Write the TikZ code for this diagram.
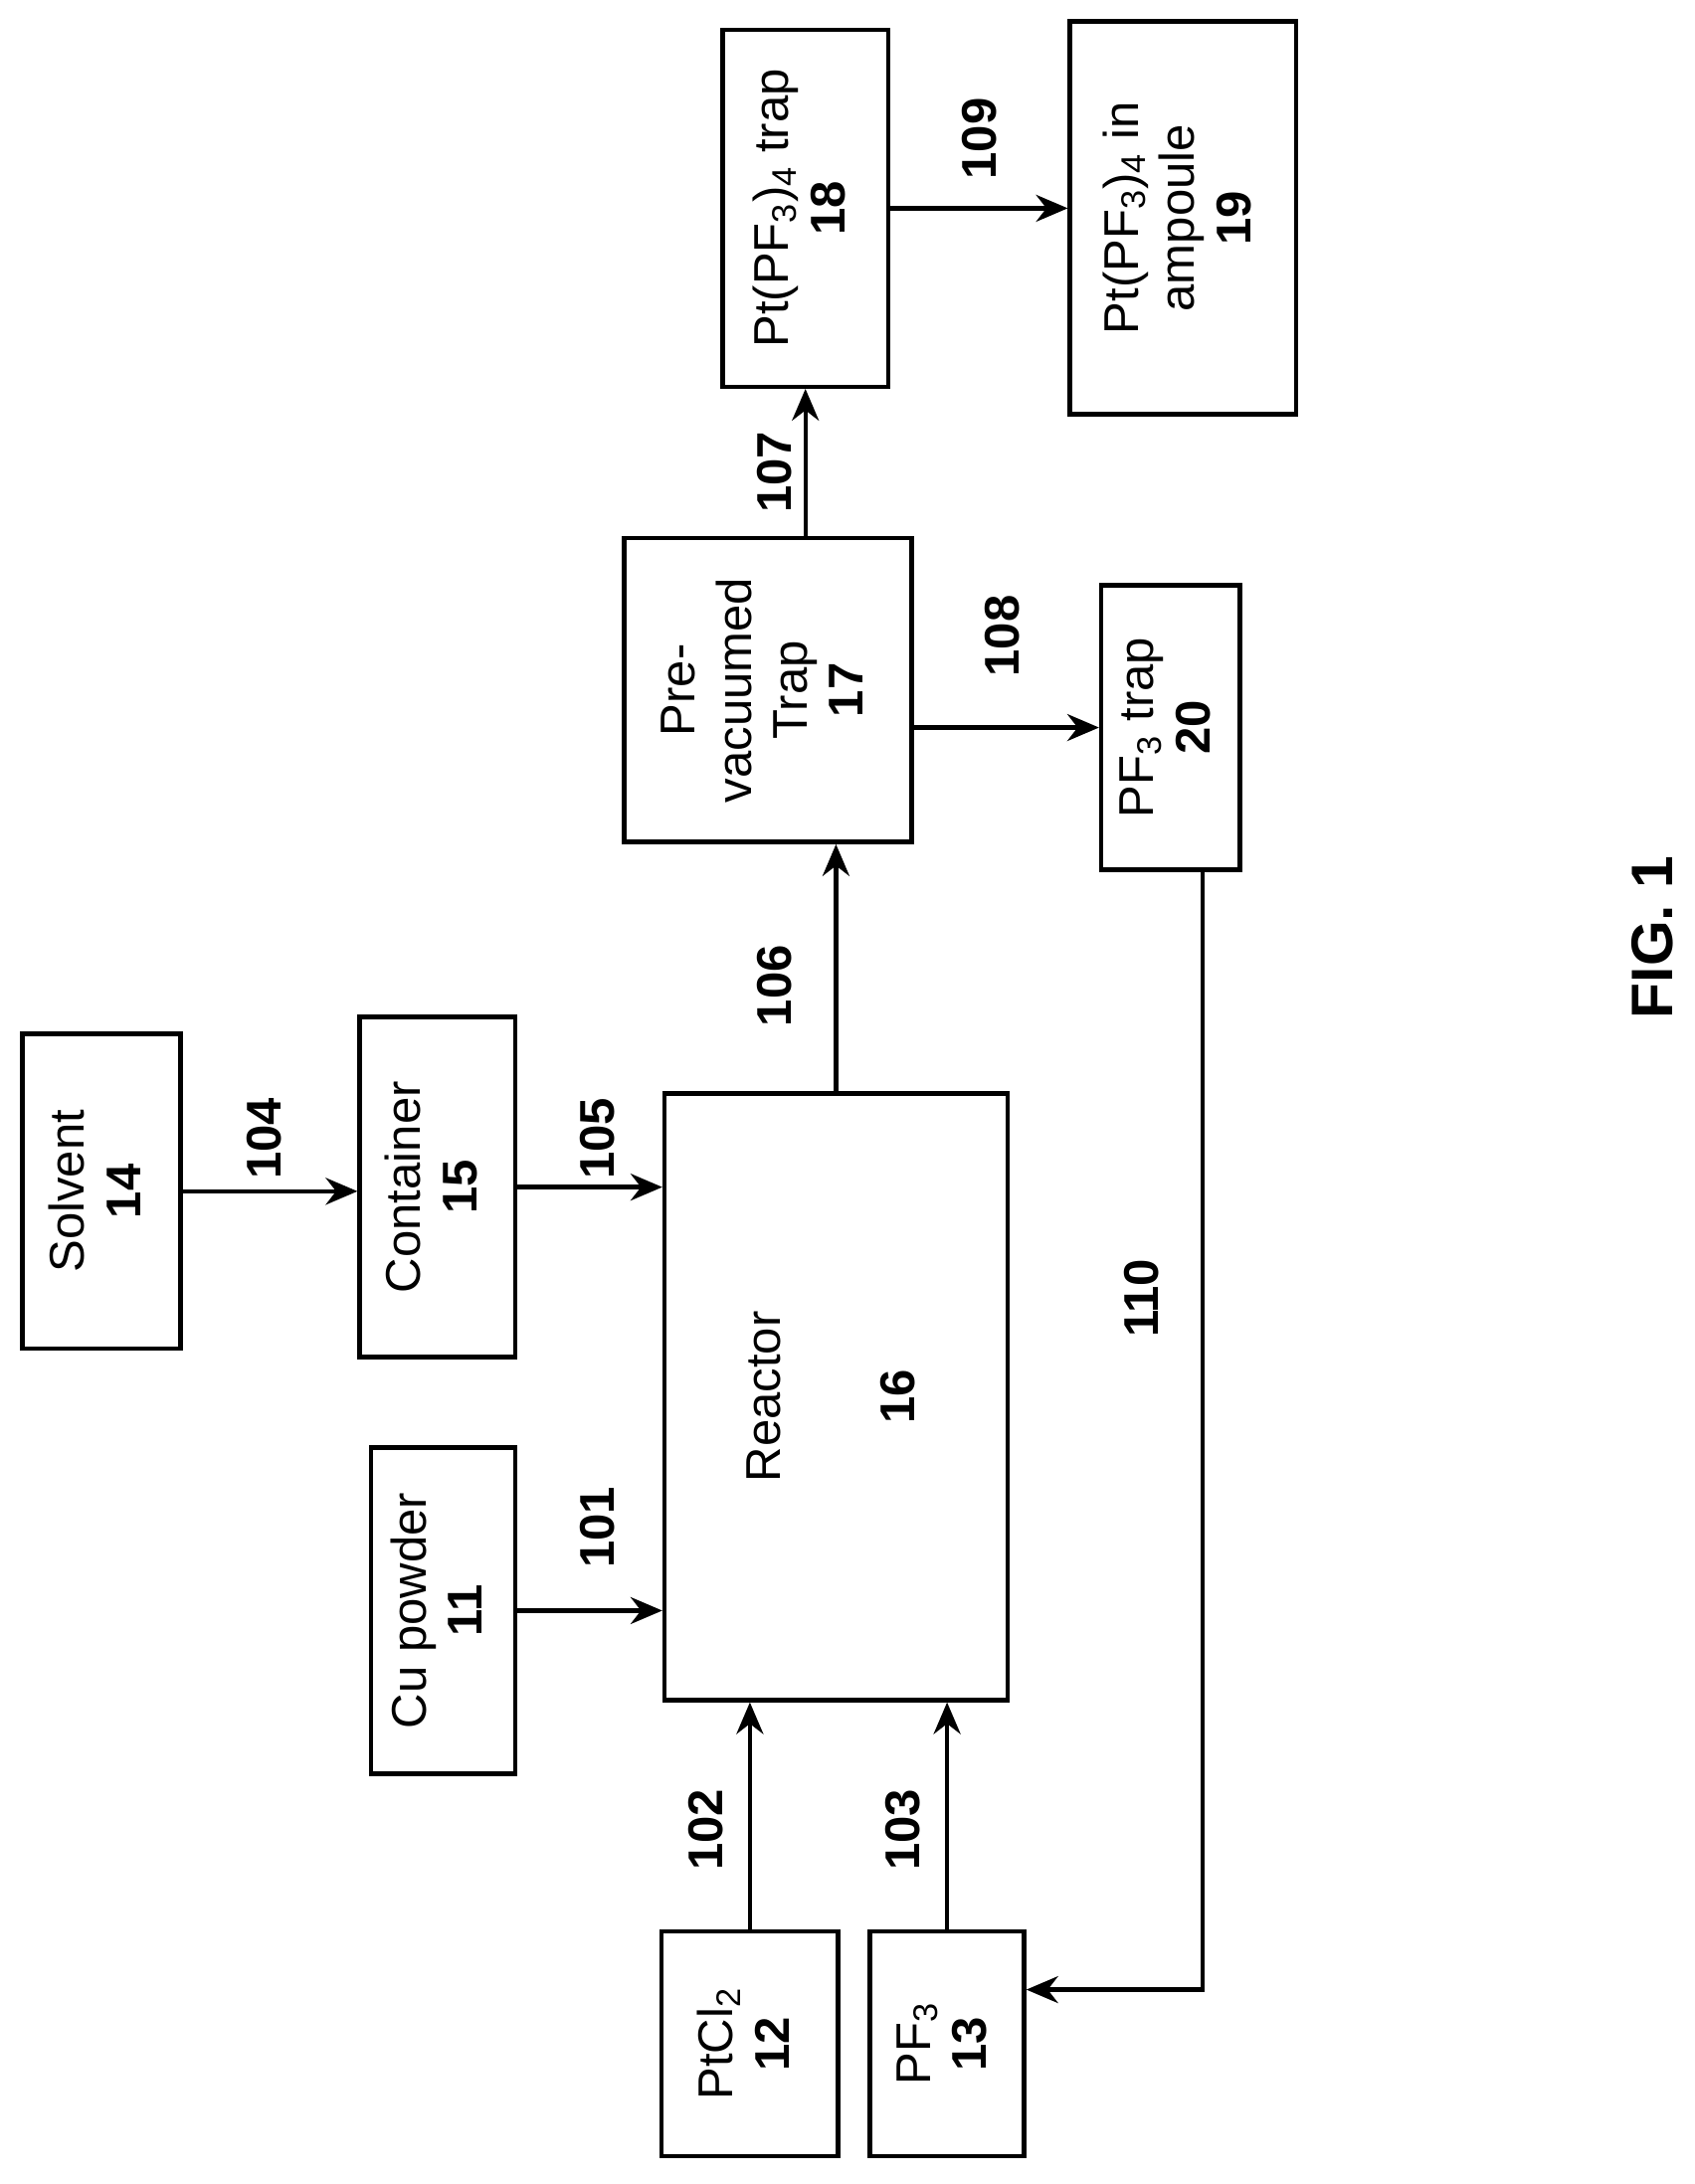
\documentclass[tikz,border=0pt]{standalone}
\usepackage{fontspec}
\setmainfont{Liberation Sans}
\usetikzlibrary{arrows.meta,calc}

\tikzset{
  box/.style={draw, line width=1.8pt, inner sep=0pt, align=center},
  flow/.style={line width=1.8pt, -{Stealth[length=13pt,width=11pt]}},
  num/.style={font=\bfseries, rotate=90}
}
\newcommand\rt[1]{\rotatebox{90}{\begin{tabular}{c}#1\end{tabular}}}

\begin{document}
\fontsize{20}{23}\selectfont
\begin{tikzpicture}[x=0.02cm, y=-0.02cm]
    \useasboundingbox (0,0) rectangle (1220,1573);
    % boxes
    \node[box, minimum width=2.28cm, minimum height=4.54cm] (solvent) at (73,858) {\rt{Solvent\\\textbf{14}}};
    \node[box, minimum width=2.24cm, minimum height=4.9cm] (container) at (315,855) {\rt{Container\\\textbf{15}}};
    \node[box, minimum width=2.08cm, minimum height=4.7cm] (cu) at (319,1160) {\rt{Cu powder\\\textbf{11}}};
    \node[box, minimum width=4.94cm, minimum height=8.74cm] (reactor) at (602,1006) {\rt{Reactor\\[1.6em]\textbf{16}}};
    \node[box, minimum width=2.54cm, minimum height=3.24cm] (ptcl) at (540,1472) {\rt{PtCl\textsubscript{2}\\\textbf{12}}};
    \node[box, minimum width=2.22cm, minimum height=3.24cm] (pf) at (682,1472) {\rt{PF\textsubscript{3}\\\textbf{13}}};
    \node[box, minimum width=4.14cm, minimum height=4.38cm] (trap) at (553,497) {\rt{Pre-\\vacuumed\\Trap\\\textbf{17}}};
    \node[box, minimum width=2.0cm, minimum height=4.1cm] (pftrap) at (843,524) {\rt{PF\textsubscript{3} trap\\\textbf{20}}};
    \node[box, minimum width=2.38cm, minimum height=5.14cm] (pttrap) at (580,150) {\rt{Pt(PF\textsubscript{3})\textsubscript{4} trap\\\textbf{18}}};
    \node[box, minimum width=3.26cm, minimum height=5.66cm] (amp) at (852,157) {\rt{Pt(PF\textsubscript{3})\textsubscript{4} in\\ampoule\\\textbf{19}}};

    % connectors
    \draw[flow] (solvent.east) -- (solvent.east -| container.west);
    \draw[flow] (container.east) -- (container.east -| reactor.west);
    \draw[flow] (cu.east) -- (cu.east -| reactor.west);
    \draw[flow] (ptcl.north) -- (ptcl.north |- reactor.south);
    \draw[flow] (pf.north) -- (pf.north |- reactor.south);
    \draw[flow] (reactor.north) -- (reactor.north |- trap.south);
    \draw[flow] (pttrap.south |- trap.north) -- (pttrap.south);
    \draw[flow] (pftrap.west -| trap.east) -- (pftrap.west);
    \draw[flow] (pttrap.east) -- (pttrap.east -| amp.west);
    \coordinate (ret) at ($(pf.east)+(0,-39)$);
    \draw[flow] ($(pftrap.south)+(23,0)$) |- (ret);

    % labels
    \node[num] (l104) at (190,820) {104};
    \node[num] (l105) at (430,820) {105};
    \node[num] (l101) at (430,1100) {101};
    \node[num] (l102) at (508,1318) {102};
    \node[num] (l103) at (650,1318) {103};
    \node[num] (l106) at (558,710) {106};
    \node[num] (l107) at (558,340) {107};
    \node[num] (l108) at (722,458) {108};
    \node[num] (l109) at (705,100) {109};
    \node[num] (l110) at (822,935) {110};
    \node[num, font=\bfseries\fontsize{24}{28}\selectfont] (fig) at (1190,675) {FIG. 1};
\end{tikzpicture}
\end{document}
